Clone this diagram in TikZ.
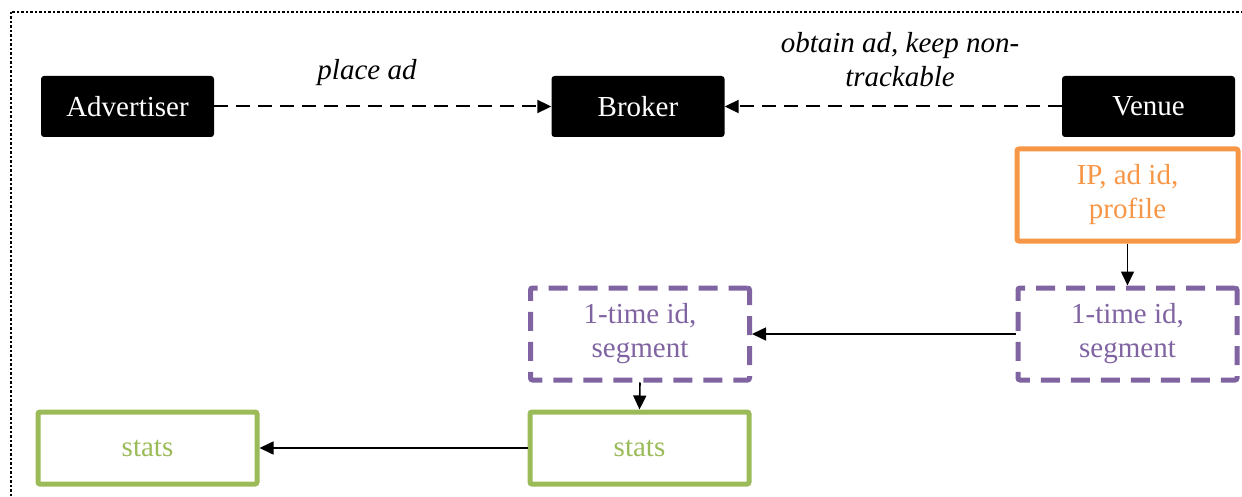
\documentclass[tikz,border=0pt]{standalone}
\usepackage{fontspec}
\setmainfont{Liberation Serif}[ItalicFont={Liberation Serif Italic}]
\usetikzlibrary{arrows.meta}
\definecolor{borange}{HTML}{F79646}
\definecolor{bpurple}{HTML}{8064A2}
\definecolor{bgreen}{HTML}{9BBB59}
\begin{document}
\begin{tikzpicture}[x=1pt,y=-1pt,
  every node/.style={font=\fontsize{29}{34}\selectfont},
  party/.style={fill=black,text=white,rounded corners=3pt,minimum width=173pt,minimum height=61pt,inner sep=0pt},
  obox/.style={draw=borange,text=borange,line width=5pt,rounded corners=2pt,minimum width=221pt,minimum height=92pt,align=center,inner sep=0pt},
  pbox/.style={draw=bpurple,text=bpurple,line width=5pt,dash pattern=on 19pt off 11pt,rounded corners=2pt,minimum width=219pt,minimum height=92pt,align=center,inner sep=0pt},
  gbox/.style={draw=bgreen,text=bgreen,line width=5pt,rounded corners=2pt,minimum width=219pt,minimum height=72pt,inner sep=0pt},
  flow/.style={line width=1.6pt,-{Triangle[length=14pt,width=13pt]}},
  dflow/.style={flow,line width=2pt,dash pattern=on 14pt off 8pt},
  lbl/.style={font=\fontsize{29}{34}\selectfont\itshape,align=center}]
\useasboundingbox (0,0) rectangle (1242,497);
\clip (0,0) rectangle (1242,497);
\draw[line width=2.5pt,dash pattern=on 2.5pt off 2pt] (11,12) rectangle (1270,530);
\node[party] (adv) at (127.5,106.5) {Advertiser};
\node[party] (brk) at (638,106.5) {Broker};
\node[party] (ven) at (1148.5,106.5) {Venue};
\node[obox] (ip) at (1127.5,195) {IP, ad id,\\profile};
\node[pbox] (pr) at (1127.5,334) {1-time id,\\segment};
\node[pbox] (pl) at (640,334) {1-time id,\\segment};
\node[gbox] (gm) at (639.5,448) {stats};
\node[gbox] (gl) at (147.5,448) {stats};
\draw[dflow] (adv) -- (brk);
\draw[dflow] (ven) -- (brk);
\node[lbl] (l1) at (367,73) {place ad};
\node[lbl] (l2) at (900,60) {obtain ad, keep non-\\trackable};
\draw[flow] (ip.south) -- (pr.north);
\draw[flow] (pr.west) -- (pl.east);
\draw[flow] (pl.south) -- (gm.north);
\draw[flow] (gm.west) -- (gl.east);
\end{tikzpicture}
\end{document}
